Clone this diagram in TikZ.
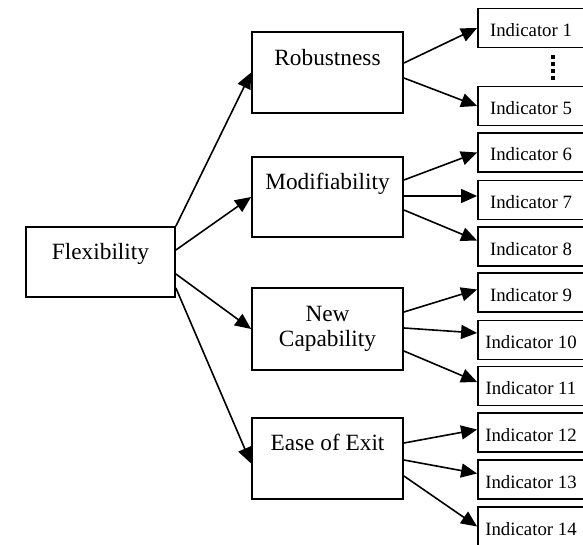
\documentclass[tikz,border=0pt]{standalone}
\usepackage{fontspec}
\setmainfont{Liberation Serif}
\usetikzlibrary{arrows.meta}

\begin{document}
\begin{tikzpicture}[x=1pt,y=-1pt,
  mainbox/.style={draw,line width=1.8pt,minimum width=151pt,minimum height=81pt,
    inner sep=0pt,align=center,font=\fontsize{23.3}{25.6}\selectfont},
  topline/.style={text height=16pt,text depth=#1},
  indbox/.style={draw,line width=1.8pt,minimum width=106pt,minimum height=39pt,
    inner sep=0pt,text height=17pt,text depth=0pt,font=\fontsize{18.8}{22}\selectfont},
  arr/.style={line width=1.6pt,-{Triangle[length=16pt,width=14pt]}},
  vdots/.style={line width=3.2pt,dash pattern=on 4pt off 3pt}]
\useasboundingbox (0,0) rectangle (583,545);
\node[mainbox,topline=21pt,minimum width=149pt,minimum height=70pt] (flex) at (100.5,262) {Flexibility};
\node[mainbox,topline=30pt] (rob) at (327.5,72.5) {Robustness};
\node[mainbox,topline=31pt,minimum height=80pt] (mod) at (327.5,197) {Modifiability};
\node[mainbox,minimum height=82pt] (newcap) at (327.5,329) {New\\Capability};
\node[mainbox,topline=33pt] (exit) at (327.5,458.5) {Ease of Exit};
\node[indbox] (ind1) at (531,28) {Indicator 1};
\node[indbox] (ind5) at (531,106) {Indicator 5};
\node[indbox] (ind6) at (531,152.5) {Indicator 6};
\node[indbox] (ind7) at (531,200) {Indicator 7};
\node[indbox] (ind8) at (531,246.5) {Indicator 8};
\node[indbox] (ind9) at (531,292.5) {Indicator 9};
\node[indbox] (ind10) at (531,340) {Indicator 10};
\node[indbox] (ind11) at (531,386) {Indicator 11};
\node[indbox] (ind12) at (531,432.5) {Indicator 12};
\node[indbox] (ind13) at (531,479.5) {Indicator 13};
\node[indbox] (ind14) at (531,526.5) {Indicator 14};
\draw[arr] (flex.north east) -- (rob.west);
\draw[arr] ([yshift=12pt]flex.east) -- (mod.west);
\draw[arr] ([yshift=-12pt]flex.east) -- (newcap.west);
\draw[arr] ([yshift=-26pt]flex.east) -- ([yshift=-5pt]exit.west);
\draw[arr] ([yshift=9.5pt]rob.east) -- (ind1.west);
\draw[arr] ([yshift=-5.5pt]rob.east) -- (ind5.west);
\draw[arr] ([yshift=17pt]mod.east) -- (ind6.west);
\draw[arr] ([yshift=1pt]mod.east) -- ([yshift=4pt]ind7.west);
\draw[arr] ([yshift=-13pt]mod.east) -- ([yshift=6pt]ind8.west);
\draw[arr] ([yshift=17pt]newcap.east) -- ([yshift=3pt]ind9.west);
\draw[arr] ([yshift=1pt]newcap.east) -- ([yshift=7pt]ind10.west);
\draw[arr] ([yshift=-22pt]newcap.east) -- ([yshift=4pt]ind11.west);
\draw[arr] ([yshift=15.5pt]exit.east) -- ([yshift=3pt]ind12.west);
\draw[arr] ([yshift=-1.5pt]exit.east) -- ([yshift=6pt]ind13.west);
\draw[arr] ([yshift=-17.5pt]exit.east) -- (ind14.west);
\draw[vdots] ([xshift=22pt,yshift=-7pt]ind1.south) -- ([xshift=22pt,yshift=5pt]ind5.north);
\end{tikzpicture}
\end{document}
